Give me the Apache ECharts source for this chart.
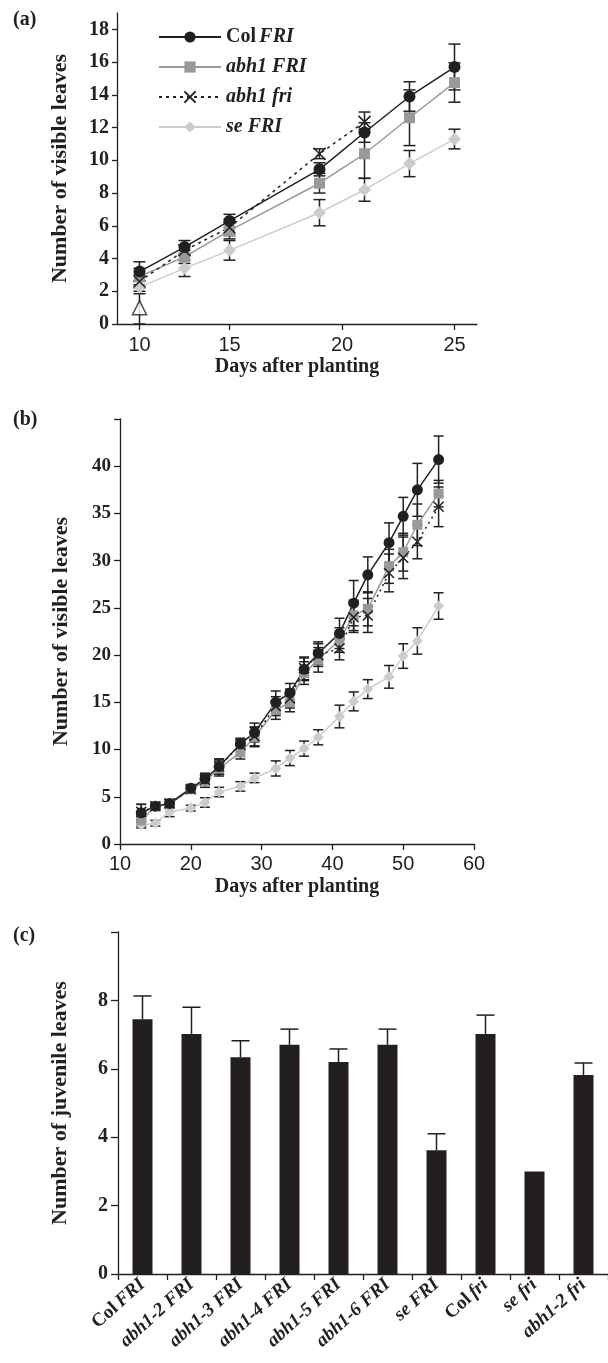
<html>
<head>
<meta charset="utf-8">
<script src="https://cdn.jsdelivr.net/npm/echarts@6/dist/echarts.min.js"></script>
<style>
  html, body { margin: 0; padding: 0; background: #fff; }
  #main { width: 608px; height: 1363px; }
</style>
</head>
<body>
<div id="main"></div>
<script>
// ---- panel (a) ----
var aDays = [11, 13, 15, 19, 21, 23, 25];        // plotted positions (first point labelled 10)
var aTickPos = [11, 15, 20, 25];
var aTickText = ['10', '15', '20', '25'];
var aColFRI = [3.2, 4.7, 6.3, 9.45, 11.7, 13.9, 15.7];
var aColFRIErr = [0.6, 0.4, 0.4, 0.4, 0.6, 0.9, 1.4];
var aAbhFRI = [2.9, 4.1, 5.7, 8.6, 10.4, 12.6, 14.75];
var aAbhFRIErr = [0.5, 0.4, 0.5, 0.6, 1.5, 1.7, 1.2];
var aAbhFri = [2.6, 4.5, 5.9, 10.4, 12.35];
var aAbhFriErr = [0.4, 0.3, 0.5, 0.3, 0.6];
var aSeFRI = [2.25, 3.4, 4.5, 6.8, 8.2, 9.8, 11.3];
var aSeFRIErr = [0.4, 0.5, 0.6, 0.8, 0.7, 0.8, 0.6];
var aTri = [1.0];
var aTriErr = [1.0];

// ---- panel (b) ----
var bDays = [13, 15, 17, 20, 22, 24, 27, 29, 32, 34, 36, 38, 41, 43, 45, 48, 50, 52, 55];
var bColFRI = [3.3, 4.0, 4.3, 5.9, 6.9, 8.2, 10.6, 11.8, 15.0, 16.0, 18.5, 20.2, 22.3, 25.5, 28.5, 31.9, 34.7, 37.5, 40.7];
var bColFRIErr = [0.9, 0.3, 0.4, 0.4, 0.6, 0.8, 0.6, 1.0, 1.2, 1.0, 1.2, 1.2, 1.6, 2.4, 1.9, 2.1, 2.0, 2.8, 2.5];
var bAbhFRI = [2.5, 4.0, 4.2, 5.8, 6.6, 8.0, 9.7, 11.3, 14.2, 15.0, 18.1, 19.5, 21.6, 24.2, 24.9, 29.4, 30.9, 33.8, 37.1];
var bAbhFRIErr = [0.6, 0.3, 0.4, 0.4, 0.6, 0.8, 0.7, 1.0, 1.0, 1.0, 1.2, 1.3, 1.3, 1.6, 1.8, 1.8, 2.0, 2.2, 1.4];
var bAbhFri = [3.4, 4.0, 4.3, 5.8, 6.8, 8.2, 10.5, 11.4, 14.6, 15.4, 18.6, 20.0, 20.7, 24.0, 24.2, 28.7, 30.3, 32.0, 35.7];
var bAbhFriErr = [0.8, 0.3, 0.4, 0.4, 0.6, 0.8, 0.6, 1.0, 1.0, 1.0, 1.2, 1.2, 1.2, 1.6, 1.8, 2.0, 2.2, 1.8, 2.1];
var bSeFRI = [2.0, 2.2, 3.4, 3.8, 4.4, 5.5, 6.1, 7.0, 8.0, 9.1, 10.1, 11.3, 13.5, 15.1, 16.4, 17.7, 19.9, 21.5, 25.2];
var bSeFRIErr = [0.3, 0.3, 0.5, 0.3, 0.5, 0.5, 0.5, 0.5, 0.8, 0.8, 0.8, 0.8, 1.2, 1.0, 1.0, 1.2, 1.3, 1.4, 1.4];

// ---- panel (c) ----
var cLines = ['Col FRI', 'abh1-2 FRI', 'abh1-3 FRI', 'abh1-4 FRI', 'abh1-5 FRI', 'abh1-6 FRI', 'se FRI', 'Col fri', 'se fri', 'abh1-2 fri'];
var cJuvenile = [7.45, 7.02, 6.34, 6.7, 6.2, 6.7, 3.62, 7.02, 3.0, 5.82];
var cJuvenileErr = [0.68, 0.78, 0.48, 0.46, 0.38, 0.46, 0.48, 0.55, 0, 0.35];

var ink = '#231f20';
var serif = 'Liberation Serif';
var sans = 'Liberation Sans';

function pairs(xs, ys) {
    return ys.map(function (v, i) { return [xs[i], v]; });
}
function errData(xs, ys, es) {
    return ys.map(function (v, i) { return [xs[i], v - es[i], v + es[i]]; });
}

function errRender(capHalf, upOnly) {
    return function (params, api) {
        var x = api.value(0);
        var lo = api.coord([x, api.value(1)]);
        var hi = api.coord([x, api.value(2)]);
        var st = { stroke: ink, lineWidth: 1.5 };
        var kids = [
            { type: 'line', shape: { x1: lo[0], y1: lo[1], x2: hi[0], y2: hi[1] }, style: st },
            { type: 'line', shape: { x1: hi[0] - capHalf, y1: hi[1], x2: hi[0] + capHalf, y2: hi[1] }, style: st }
        ];
        if (!upOnly) {
            kids.push({ type: 'line', shape: { x1: lo[0] - capHalf, y1: lo[1], x2: lo[0] + capHalf, y2: lo[1] }, style: st });
        }
        return { type: 'group', children: kids };
    };
}

function errSeries(idx, data, capHalf, upOnly) {
    return {
        type: 'custom',
        xAxisIndex: idx,
        yAxisIndex: idx,
        renderItem: errRender(capHalf, upOnly),
        data: data,
        silent: true,
        z: 1,
        encode: { x: 0, y: [1, 2] }
    };
}

var crossPath = 'path://M0,0L10,10M10,0L0,10';

function lineSeries(idx, name, xs, ys, style) {
    return {
        type: 'line',
        name: name,
        xAxisIndex: idx,
        yAxisIndex: idx,
        data: pairs(xs, ys),
        symbol: style.symbol,
        symbolSize: style.size,
        showSymbol: true,
        lineStyle: { color: style.line, width: 1.5, type: style.dash || 'solid' },
        itemStyle: style.item,
        z: 2,
        animation: false
    };
}

var stCol = { symbol: 'circle', size: 12, line: ink, item: { color: ink } };
var stAbh = { symbol: 'rect', size: 11, line: '#999999', item: { color: '#999999' } };
var stAbhFri = { symbol: crossPath, size: 12, line: ink, dash: [3, 4], item: { color: 'none', borderColor: ink, borderWidth: 1.5 } };
var stSe = { symbol: 'diamond', size: 13, line: '#cccccc', item: { color: '#cccccc' } };

var yNameStyle = { fontFamily: serif, fontWeight: 'bold', fontSize: 22, color: ink };
var xNameStyle = { fontFamily: serif, fontWeight: 'bold', fontSize: 20, color: ink };
var axLine = { show: true, lineStyle: { color: ink, width: 1.3 } };

function range(a, b, s) {
    var r = [];
    for (var v = a; v <= b; v += s) r.push(v);
    return r;
}

var myChart = echarts.init(document.getElementById('main'));

var option = {
    animation: false,
    backgroundColor: '#fff',
    graphic: [
        { type: 'text', left: 13, top: 10, style: { text: '(a)', font: 'bold 20px "Liberation Serif"', fill: ink } },
        { type: 'text', left: 13, top: 410, style: { text: '(b)', font: 'bold 20px "Liberation Serif"', fill: ink } },
        { type: 'text', left: 13, top: 926, style: { text: '(c)', font: 'bold 20px "Liberation Serif"', fill: ink } }
    ],
    legend: {
        data: ['Col FRI', 'abh1 FRI', 'abh1 fri', 'se FRI'],
        orient: 'vertical',
        left: 158,
        top: 27,
        padding: 0,
        itemWidth: 62,
        itemHeight: 14,
        itemGap: 10,
        selectedMode: false,
        formatter: function (name) {
            if (name === 'Col FRI') return '{n|Col} {i|FRI}';
            return '{i|' + name + '}';
        },
        textStyle: {
            rich: {
                n: { fontFamily: serif, fontWeight: 'bold', fontSize: 20, lineHeight: 20, color: ink },
                i: { fontFamily: serif, fontWeight: 'bold', fontStyle: 'italic', fontSize: 20, lineHeight: 20, color: ink }
            }
        }
    },
    grid: [
        { left: 117, top: 13, width: 360, height: 311 },
        { left: 120, top: 419, width: 354, height: 425 },
        { left: 118, top: 932, width: 490, height: 342 }
    ],
    xAxis: [
        {
            gridIndex: 0, type: 'value', min: 10, max: 26,
            name: 'Days after planting', nameLocation: 'middle', nameGap: 33, nameTextStyle: xNameStyle,
            axisLine: axLine,
            axisTick: { show: true, length: 6, customValues: aTickPos, lineStyle: { color: ink, width: 1.3 } },
            axisLabel: {
                customValues: aTickPos, margin: 11,
                formatter: function (v) { return aTickText[aTickPos.indexOf(v)]; },
                fontFamily: sans, fontSize: 20, color: ink
            },
            splitLine: { show: false }
        },
        {
            gridIndex: 1, type: 'value', min: 10, max: 60, interval: 10,
            name: 'Days after planting', nameLocation: 'middle', nameGap: 33, nameTextStyle: xNameStyle,
            axisLine: axLine,
            axisTick: { show: true, length: 6, lineStyle: { color: ink, width: 1.3 } },
            axisLabel: { margin: 10, fontFamily: sans, fontSize: 20, color: ink },
            splitLine: { show: false }
        },
        {
            gridIndex: 2, type: 'category', data: cLines,
            axisLine: axLine,
            axisTick: { show: true, length: 6, lineStyle: { color: ink, width: 1.3 } },
            axisLabel: {
                rotate: 42, margin: 8, interval: 0,
                formatter: function (v) {
                    var parts = v.split(' ');
                    if (parts[0] === 'Col') return '{n|Col} {i|' + parts[1] + '}';
                    return '{i|' + v + '}';
                },
                rich: {
                    n: { fontFamily: serif, fontWeight: 'bold', fontSize: 19, color: ink },
                    i: { fontFamily: serif, fontWeight: 'bold', fontStyle: 'italic', fontSize: 19, color: ink }
                }
            },
            splitLine: { show: false }
        }
    ],
    yAxis: [
        {
            gridIndex: 0, type: 'value', min: 0, max: 19,
            name: 'Number of visible leaves', nameLocation: 'middle', nameGap: 46, nameTextStyle: yNameStyle,
            axisLine: axLine,
            axisTick: { show: true, length: 5, customValues: range(0, 18, 2), lineStyle: { color: ink, width: 1.3 } },
            axisLabel: { customValues: range(0, 18, 2), margin: 8, fontFamily: serif, fontWeight: 'bold', fontSize: 20, color: ink },
            splitLine: { show: false }
        },
        {
            gridIndex: 1, type: 'value', min: 0, max: 45,
            name: 'Number of visible leaves', nameLocation: 'middle', nameGap: 48, nameTextStyle: yNameStyle,
            axisLine: axLine,
            axisTick: { show: true, length: 6, customValues: range(0, 45, 5), lineStyle: { color: ink, width: 1.3 } },
            axisLabel: { customValues: range(0, 40, 5), margin: 9, fontFamily: serif, fontWeight: 'bold', fontSize: 19, color: ink },
            splitLine: { show: false }
        },
        {
            gridIndex: 2, type: 'value', min: 0, max: 10,
            name: 'Number of juvenile leaves', nameLocation: 'middle', nameGap: 47, nameTextStyle: yNameStyle,
            axisLine: axLine,
            axisTick: { show: true, length: 7, customValues: range(0, 10, 2), lineStyle: { color: ink, width: 1.3 } },
            axisLabel: { customValues: range(0, 8, 2), margin: 10, fontFamily: serif, fontWeight: 'bold', fontSize: 20, color: ink },
            splitLine: { show: false }
        }
    ],
    series: [
        // (a)
        errSeries(0, errData(aDays, aSeFRI, aSeFRIErr), 6),
        errSeries(0, errData(aDays, aAbhFRI, aAbhFRIErr), 6),
        errSeries(0, errData(aDays, aAbhFri, aAbhFriErr), 6),
        errSeries(0, errData(aDays, aColFRI, aColFRIErr), 6),
        errSeries(0, errData(aDays, aTri, aTriErr), 6),
        lineSeries(0, 'se FRI', aDays, aSeFRI, stSe),
        lineSeries(0, 'abh1 FRI', aDays, aAbhFRI, stAbh),
        lineSeries(0, 'abh1 fri', aDays, aAbhFri, stAbhFri),
        lineSeries(0, 'Col FRI', aDays, aColFRI, stCol),
        {
            type: 'scatter', name: 'triangle', xAxisIndex: 0, yAxisIndex: 0,
            data: pairs(aDays, aTri), symbol: 'triangle', symbolSize: 14,
            itemStyle: { color: '#fff', borderColor: ink, borderWidth: 1.5 }, z: 3
        },
        // (b)
        errSeries(1, errData(bDays, bSeFRI, bSeFRIErr), 5),
        errSeries(1, errData(bDays, bAbhFRI, bAbhFRIErr), 5),
        errSeries(1, errData(bDays, bAbhFri, bAbhFriErr), 5),
        errSeries(1, errData(bDays, bColFRI, bColFRIErr), 5),
        lineSeries(1, 'se FRI', bDays, bSeFRI, { symbol: 'diamond', size: 11, line: '#cccccc', item: { color: '#cccccc' } }),
        lineSeries(1, 'abh1 FRI', bDays, bAbhFRI, { symbol: 'rect', size: 10, line: '#999999', item: { color: '#999999' } }),
        lineSeries(1, 'abh1 fri', bDays, bAbhFri, { symbol: crossPath, size: 10, line: ink, dash: [2, 4], item: { color: 'none', borderColor: ink, borderWidth: 1.5 } }),
        lineSeries(1, 'Col FRI', bDays, bColFRI, { symbol: 'circle', size: 11, line: ink, item: { color: ink } }),
        // (c)
        {
            type: 'bar', xAxisIndex: 2, yAxisIndex: 2,
            data: cJuvenile, barWidth: 20,
            itemStyle: { color: ink }, z: 2
        },
        errSeries(2, cJuvenile.map(function (v, i) { return [i, v, v + cJuvenileErr[i]]; }).filter(function (d) { return d[2] > d[1]; }), 9, true)
    ]
};

myChart.setOption(option);
</script>
</body>
</html>
